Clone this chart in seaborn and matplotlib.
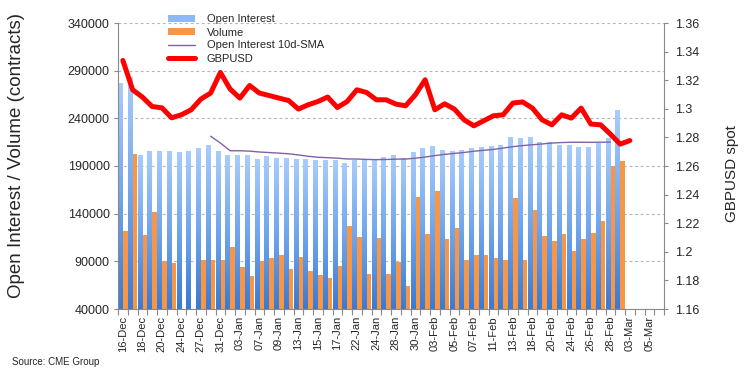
import numpy as np
import pandas as pd
import matplotlib
matplotlib.use("Agg")
import matplotlib.pyplot as plt
import seaborn as sns
from matplotlib.colors import LinearSegmentedColormap
from matplotlib.patches import Patch
from matplotlib.lines import Line2D
from matplotlib.ticker import FuncFormatter

nan = np.nan

dates = ["16-Dec", "17-Dec", "18-Dec", "19-Dec", "20-Dec", "23-Dec", "24-Dec", "26-Dec",
         "27-Dec", "30-Dec", "31-Dec", "02-Jan", "03-Jan", "06-Jan", "07-Jan", "08-Jan",
         "09-Jan", "10-Jan", "13-Jan", "14-Jan", "15-Jan", "16-Jan", "17-Jan", "21-Jan",
         "22-Jan", "23-Jan", "24-Jan", "27-Jan", "28-Jan", "29-Jan", "30-Jan", "31-Jan",
         "03-Feb", "04-Feb", "05-Feb", "06-Feb", "07-Feb", "10-Feb", "11-Feb", "12-Feb",
         "13-Feb", "14-Feb", "18-Feb", "19-Feb", "20-Feb", "21-Feb", "24-Feb", "25-Feb",
         "26-Feb", "27-Feb", "28-Feb", "02-Mar", "03-Mar", "04-Mar", "05-Mar", "06-Mar"]

open_interest = [276800, 283000, 201800, 206000, 206000, 206000, 205000, 206000, 209100, 212200,
                 206000, 201800, 201800, 201800, 196900, 200800, 198700, 198700, 197600, 197600,
                 196600, 196600, 196600, 193500, 196600, 196600, 196600, 199700, 201800, 198700,
                 205000, 209100, 211200, 207000, 206000, 207000, 209100, 210100, 211200, 212200,
                 220500, 219500, 220500, 215300, 215300, 212200, 212200, 210100, 210100, 214300,
                 219500, 248700, nan, nan, nan, nan]

volume = [121600, 202800, 117400, 141400, 90300, 88300, nan, nan, 91400, 91400,
          91400, 104900, 84100, 75100, 90700, 93800, 96600, 82000, 94500, 79900,
          75800, 72600, 85100, 126800, 115300, 76800, 114300, 76800, 89300, 64300,
          158000, 118500, 163300, 113300, 124700, 91400, 96600, 96600, 93500, 91400,
          156000, 91400, 143500, 116400, 111200, 118500, 100800, 113300, 119500, 132000,
          190300, 195500, nan, nan, nan, nan]

oi_sma10 = [nan, nan, nan, nan, nan, nan, nan, nan, nan, 221200,
            214100, 206000, 206000, 205600, 204700, 204100, 203500, 202800, 201600, 200200,
            199200, 198700, 198200, 197400, 197300, 196900, 196700, 196800, 197200, 197300,
            198200, 199400, 200900, 202200, 203200, 204200, 205500, 206500, 207400, 208800,
            210300, 211400, 212300, 213100, 214100, 214600, 214900, 214900, 214800, 215000,
            215000, nan, nan, nan, nan, nan]

gbpusd = [1.3338, 1.3133, 1.3082, 1.3016, 1.3007, 1.2937, 1.2958, 1.2993, 1.3068, 1.3110,
          1.3254, 1.3138, 1.3075, 1.3163, 1.3110, 1.3093, 1.3075, 1.3058, 1.2998, 1.3028,
          1.3051, 1.3082, 1.3009, 1.3051, 1.3133, 1.3114, 1.3063, 1.3063, 1.3033, 1.3021,
          1.3098, 1.3203, 1.2993, 1.3035, 1.2998, 1.2923, 1.2881, 1.2916, 1.2951, 1.2958,
          1.3040, 1.3048, 1.3005, 1.2923, 1.2888, 1.2958, 1.2935, 1.3005, 1.2893, 1.2888,
          1.2823, 1.2753, 1.2778, nan, nan, nan]

series_names = ["Open Interest", "Volume"]

OI_COL = "#7FAEEB"
VOL_COL = "#F79646"
SMA_COL = "#7F62A8"
FX_COL = "#FF0000"
SPINE = "#8A8A8A"

sns.set_style("white")
plt.rcParams["font.family"] = ["Liberation Sans", "DejaVu Sans"]

fig = plt.figure(figsize=(7.5, 3.78), dpi=100)
ax = fig.add_axes([118 / 750, 1 - 309 / 378, (664 - 118) / 750, (309 - 23) / 378])

n = len(dates)
df = pd.DataFrame({
    "date": dates * 2,
    "series": [series_names[0]] * n + [series_names[1]] * n,
    "value": open_interest + volume,
})

sns.barplot(data=df, x="date", y="value", hue="series", order=dates,
            hue_order=series_names, palette=[OI_COL, VOL_COL], width=0.96,
            gap=0, errorbar=None, saturation=1, legend=False, linewidth=0, ax=ax)

# gradient fill for open interest bars
cmap = LinearSegmentedColormap.from_list("oi", ["#3A7AD0", "#72A6EC", "#A9CDFB"])
grad = np.linspace(0, 1, 256).reshape(-1, 1)
oi_rgba = matplotlib.colors.to_rgba(OI_COL)
for p in list(ax.patches):
    if np.allclose(p.get_facecolor(), oi_rgba, atol=0.01):
        h = p.get_height()
        if not np.isfinite(h) or h <= 40000:
            continue
        x0, w = p.get_x(), p.get_width()
        im = ax.imshow(grad, extent=[x0, x0 + w, 40000, h], origin="lower",
                       aspect="auto", cmap=cmap, zorder=1.5, interpolation="bilinear")
        im.set_clip_path(p)
        p.set_facecolor("none")

x_pos = np.arange(n)
sns.lineplot(x=x_pos, y=oi_sma10, ax=ax, color=SMA_COL, lw=1.0, zorder=5)

ax2 = ax.twinx()
sns.lineplot(x=x_pos, y=gbpusd, ax=ax2, color=FX_COL, lw=3.6,
             solid_joinstyle="round", solid_capstyle="round")

ax.set_xlim(-0.5, n - 0.5)
ax.set_ylim(40000, 340000)
ax2.set_ylim(1.16, 1.36)
ax.set_xlabel("")
ax.set_ylabel("")
ax2.set_ylabel("")

# x ticks
ax.set_xticks(np.arange(0, n, 2))
ax.set_xticklabels(dates[::2], rotation=90, fontsize=8)
ax.set_xticks(np.arange(-0.5, n, 1), minor=True)
ax.tick_params(axis="x", which="major", length=0, pad=5, bottom=True)
ax.tick_params(axis="x", which="minor", length=4, width=0.8, color=SPINE,
               direction="out", bottom=True)

# y ticks
ax.set_yticks(np.arange(40000, 340001, 50000))
ax.yaxis.set_major_formatter(FuncFormatter(lambda v, p: f"{int(round(v))}"))
ax.tick_params(axis="y", which="major", length=3, width=0.8, color=SPINE,
               direction="out", left=True, pad=3, labelsize=9)
ax2.set_yticks(np.round(np.arange(1.16, 1.3601, 0.02), 2))
ax2.yaxis.set_major_formatter(FuncFormatter(lambda v, p: f"{round(v, 2):g}"))
ax2.tick_params(axis="y", which="major", length=3, width=0.8, color=SPINE,
                direction="out", right=True, pad=5, labelsize=9)

# grid
ax.set_axisbelow(True)
ax.yaxis.grid(True, linestyle=(0, (2.5, 2.5)), color="#B5B5B5", lw=0.8)
ax.xaxis.grid(False)
ax2.grid(False)

for a in (ax, ax2):
    for s in a.spines.values():
        s.set_color(SPINE)
        s.set_linewidth(0.8)
    a.spines["top"].set_visible(False)
ax.spines["right"].set_visible(False)
ax2.spines["left"].set_visible(False)
ax2.spines["bottom"].set_visible(False)

fig.text(17 / 750, 1 - 155.5 / 378, "Open Interest / Volume (contracts)",
         rotation=90, ha="center", va="center", fontsize=13.5)
fig.text(732 / 750, 1 - 173.5 / 378, "GBPUSD spot", rotation=90,
         ha="center", va="center", fontsize=11)
fig.text(12 / 750, 1 - 362 / 378, "Source: CME Group", ha="left", va="center",
         fontsize=7)

handles = [Patch(facecolor="#8DB9F4", edgecolor="none"),
           Patch(facecolor=VOL_COL, edgecolor="none"),
           Line2D([], [], color=SMA_COL, lw=1.0),
           Line2D([], [], color=FX_COL, lw=3.6, solid_capstyle="round")]
labels = ["Open Interest", "Volume", "Open Interest 10d-SMA", "GBPUSD"]
leg = fig.legend(handles, labels, loc="upper left",
                 bbox_to_anchor=(168 / 750, 1 - 14.5 / 378), frameon=False,
                 fontsize=8, handlelength=2.45, handletextpad=1.05,
                 labelspacing=0.27, borderpad=0, borderaxespad=0,
                 handleheight=0.6)

fig.savefig("out.png", dpi=100)
